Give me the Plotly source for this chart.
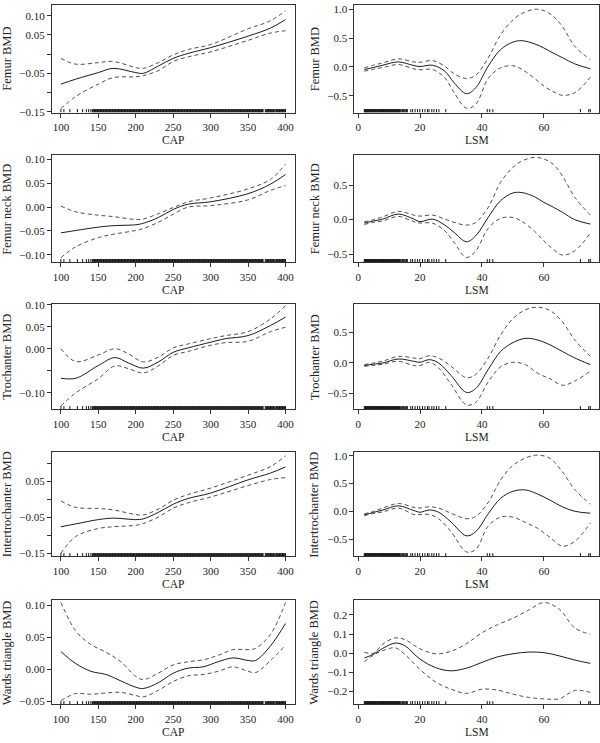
import plotly.graph_objects as go

# ---------------- rug data (observed x values) ----------------
cap_rug = [100, 104, 112, 122, 129, 134, 137, 140,
           142, 143, 144, 145, 146, 147, 148, 149, 150, 151, 152, 153, 154, 155, 156, 157, 158, 159, 160, 161,
           162, 163, 164, 165, 166, 167, 168, 169, 170, 171, 172, 173, 174, 175, 176, 177, 178, 179, 180, 181,
           182, 183, 184, 185, 186, 187, 188, 189, 190, 191, 192, 193, 194, 195, 196, 197, 198, 199, 200, 201,
           202, 203, 204, 205, 206, 207, 208, 209, 210, 211, 212, 213, 214, 215, 216, 217, 218, 219, 220, 221,
           222, 223, 224, 225, 226, 227, 228, 229, 230, 231, 232, 233, 234, 235, 236, 237, 238, 239, 240, 241,
           242, 243, 244, 245, 246, 247, 248, 249, 250, 251, 252, 253, 254, 255, 256, 257, 258, 259, 260, 261,
           262, 263, 264, 265, 266, 267, 268, 269, 270, 271, 272, 273, 274, 275, 276, 277, 278, 279, 280, 281,
           282, 283, 284, 285, 286, 287, 288, 289, 290, 291, 292, 293, 294, 295, 296, 297, 298, 299, 300, 301,
           302, 303, 304, 305, 306, 307, 308, 309, 310, 311, 312, 313, 314, 315, 316, 317, 318, 319, 320, 321,
           322, 323, 324, 325, 326, 327, 328, 329, 330, 331, 332, 333, 334, 335, 336, 337, 338, 339, 340, 341,
           342, 343, 344, 345, 346, 347, 348, 349, 350, 351, 352, 353, 354, 355, 356, 357, 358, 359, 360, 361,
           362, 363, 364, 365, 366, 367, 368, 369, 370, 373, 374, 375, 376, 377, 378, 379, 380, 381,
           382, 383, 384, 385, 387, 388, 389, 390, 391, 392, 393, 394, 395, 396, 397, 398, 399, 400]

lsm_rug = [2.0, 2.2, 2.4, 2.6, 2.8, 3.0, 3.2, 3.4, 3.6, 3.8, 4.0, 4.2, 4.4, 4.6, 4.8, 5.0, 5.2, 5.4, 5.6, 5.8,
           6.0, 6.2, 6.4, 6.6, 6.8, 7.0, 7.2, 7.4, 7.6, 7.8, 8.0, 8.2, 8.4, 8.6, 8.8, 9.0, 9.2, 9.4, 9.6, 9.8,
           10.0, 10.2, 10.4, 10.6, 10.8, 11.0, 11.2, 11.4, 11.6, 11.8, 12.0, 12.2, 12.4, 12.6, 12.8, 13.0,
           13.2, 13.4, 13.6, 13.9, 14.3, 14.6, 14.9, 15.2, 15.6, 15.9, 17.0, 17.6, 18.4, 19.2, 19.9, 20.8,
           21.6, 22.4, 22.9, 23.8, 24.5, 25.3, 26.1, 28.3, 41.7, 42.5, 43.5, 71.8, 74.5, 75.0]

# ---------------- CAP panels ----------------
cap_x = [100, 120, 150, 170, 200, 210, 230, 250, 270, 300, 350, 380, 400]

femur_cap_fit = [-0.078, -0.065, -0.048, -0.037, -0.048, -0.050, -0.031, -0.011, 0.002, 0.017, 0.047, 0.068, 0.090]
femur_cap_up = [-0.011, -0.026, -0.022, -0.019, -0.035, -0.037, -0.022, -0.002, 0.012, 0.025, 0.066, 0.087, 0.113]
femur_cap_lo = [-0.142, -0.110, -0.078, -0.061, -0.059, -0.056, -0.043, -0.019, -0.007, 0.006, 0.036, 0.055, 0.061]

neck_cap_fit = [-0.054, -0.049, -0.042, -0.039, -0.037, -0.034, -0.022, -0.005, 0.006, 0.011, 0.028, 0.048, 0.068]
neck_cap_up = [0.002, -0.010, -0.017, -0.020, -0.026, -0.025, -0.014, -0.001, 0.011, 0.019, 0.038, 0.058, 0.090]
neck_cap_lo = [-0.106, -0.083, -0.064, -0.057, -0.049, -0.045, -0.032, -0.015, 0.000, 0.003, 0.015, 0.035, 0.045]

troch_cap_x = [100, 120, 150, 172, 190, 210, 230, 250, 270, 300, 320, 350, 380, 400]
troch_cap_fit = [-0.067, -0.067, -0.038, -0.020, -0.032, -0.044, -0.030, -0.008, 0.002, 0.015, 0.023, 0.030, 0.053, 0.072]
troch_cap_up = [0.000, -0.029, -0.014, 0.000, -0.011, -0.030, -0.019, 0.002, 0.011, 0.023, 0.030, 0.039, 0.068, 0.098]
troch_cap_lo = [-0.130, -0.100, -0.068, -0.039, -0.045, -0.055, -0.039, -0.015, -0.006, 0.008, 0.014, 0.017, 0.039, 0.049]

inter_cap_fit = [-0.076, -0.068, -0.056, -0.052, -0.056, -0.054, -0.036, -0.013, 0.003, 0.018, 0.055, 0.074, 0.091]
inter_cap_up = [-0.004, -0.022, -0.025, -0.029, -0.042, -0.043, -0.027, -0.002, 0.014, 0.032, 0.068, 0.092, 0.122]
inter_cap_lo = [-0.150, -0.103, -0.081, -0.076, -0.072, -0.067, -0.049, -0.024, -0.009, 0.007, 0.039, 0.056, 0.061]

wards_cap_x = [100, 120, 140, 160, 180, 200, 210, 230, 250, 270, 290, 310, 330, 350, 360, 380, 400]
wards_cap_fit = [0.028, 0.009, -0.003, -0.008, -0.018, -0.028, -0.030, -0.021, -0.006, 0.002, 0.004, 0.012, 0.018,
                 0.014, 0.014, 0.037, 0.072]
wards_cap_up = [0.105, 0.060, 0.039, 0.027, 0.012, -0.011, -0.016, -0.006, 0.007, 0.012, 0.015, 0.022, 0.031,
                0.031, 0.033, 0.055, 0.105]
wards_cap_lo = [-0.049, -0.038, -0.039, -0.037, -0.036, -0.041, -0.043, -0.033, -0.019, -0.010, -0.008, -0.003,
                0.004, -0.003, -0.005, 0.014, 0.038]

# ---------------- LSM panels ----------------
lsm_x = [2, 5, 8, 13, 18, 20, 24, 28, 31, 35, 38, 42, 46, 50, 53, 57, 60, 63, 66, 70, 75]

femur_lsm_fit = [-0.046, -0.010, 0.030, 0.086, 0.023, 0.006, 0.029, -0.075, -0.276, -0.466, -0.362, 0.011, 0.300,
                 0.430, 0.455, 0.400, 0.328, 0.240, 0.160, 0.052, -0.034]
femur_lsm_up = [-0.017, 0.030, 0.070, 0.138, 0.086, 0.080, 0.109, 0.011, -0.121, -0.201, -0.144, 0.155, 0.557,
                0.816, 0.930, 1.000, 0.977, 0.880, 0.700, 0.356, 0.126]
femur_lsm_lo = [-0.075, -0.040, -0.010, 0.040, -0.034, -0.050, -0.046, -0.190, -0.448, -0.718, -0.649, -0.201,
                -0.017, 0.020, -0.046, -0.200, -0.333, -0.430, -0.494, -0.448, -0.178]

neck_lsm_fit = [-0.051, -0.020, 0.007, 0.080, 0.007, -0.031, 0.007, -0.080, -0.186, -0.321, -0.234, 0.031, 0.273,
                0.385, 0.390, 0.330, 0.249, 0.180, 0.105, -0.002, -0.065]
neck_lsm_up = [-0.031, 0.000, 0.040, 0.118, 0.065, 0.050, 0.065, 0.007, -0.041, -0.080, -0.041, 0.176, 0.539,
               0.756, 0.850, 0.900, 0.877, 0.800, 0.630, 0.321, 0.065]
neck_lsm_lo = [-0.070, -0.040, -0.020, 0.046, -0.031, -0.050, -0.051, -0.162, -0.331, -0.548, -0.452, -0.128,
               0.017, 0.030, -0.030, -0.170, -0.307, -0.430, -0.514, -0.452, -0.196]

lsm_x2 = [2, 5, 8, 13, 18, 20, 23, 26, 30, 35, 38, 42, 46, 50, 54, 58, 62, 66, 70, 75]

troch_lsm_fit = [-0.043, -0.020, 0.000, 0.065, 0.027, 0.011, 0.054, 0.000, -0.204, -0.484, -0.419, -0.108, 0.188,
                 0.333, 0.403, 0.376, 0.296, 0.188, 0.081, -0.027]
troch_lsm_up = [-0.027, 0.000, 0.030, 0.108, 0.081, 0.070, 0.118, 0.081, -0.054, -0.242, -0.188, 0.081, 0.457,
                0.726, 0.871, 0.914, 0.860, 0.672, 0.376, 0.108]
troch_lsm_lo = [-0.054, -0.040, -0.020, 0.027, -0.043, -0.043, 0.011, -0.081, -0.349, -0.688, -0.645, -0.312,
                -0.065, 0.011, -0.027, -0.170, -0.260, -0.366, -0.296, -0.134]

inter_lsm_fit = [-0.064, -0.020, 0.023, 0.099, 0.012, -0.017, 0.023, -0.017, -0.192, -0.442, -0.366, -0.047,
                 0.233, 0.360, 0.385, 0.310, 0.200, 0.080, 0.000, -0.035]
inter_lsm_up = [-0.047, 0.000, 0.060, 0.140, 0.070, 0.060, 0.081, 0.058, -0.035, -0.134, -0.093, 0.157, 0.564,
                0.826, 0.959, 1.012, 0.953, 0.709, 0.390, 0.128]
inter_lsm_lo = [-0.076, -0.040, -0.010, 0.058, -0.058, -0.060, -0.058, -0.134, -0.366, -0.733, -0.686, -0.267,
                -0.105, -0.105, -0.200, -0.308, -0.471, -0.628, -0.541, -0.209]

wards_lsm_x = [2, 5, 8, 12, 15, 20, 25, 30, 35, 40, 45, 50, 55, 60, 65, 70, 75]
wards_lsm_fit = [-0.025, -0.005, 0.026, 0.053, 0.040, -0.031, -0.075, -0.092, -0.078, -0.048, -0.019, -0.003,
                 0.006, 0.003, -0.014, -0.036, -0.053]
wards_lsm_up = [0.005, 0.000, 0.048, 0.080, 0.072, 0.023, -0.003, 0.010, 0.050, 0.107, 0.149, 0.183, 0.225,
                0.265, 0.230, 0.132, 0.099]
wards_lsm_lo = [-0.045, -0.010, 0.014, 0.028, -0.005, -0.085, -0.150, -0.188, -0.210, -0.188, -0.193, -0.214,
                -0.231, -0.239, -0.238, -0.195, -0.205]

# ---------------- tick labels ----------------
cap_ticks = [100, 150, 200, 250, 300, 350, 400]
lsm_ticks = [0, 20, 40, 60]

y_titles = ["Femur BMD", "Femur neck BMD", "Trochanter BMD", "Intertrochanter BMD", "Wards triangle BMD"]

panels = [
    # (col, row, xs, fit, up, lo, yrange, tickvals, ticktext)
    (0, 0, cap_x, femur_cap_fit, femur_cap_up, femur_cap_lo, [-0.152, 0.128],
     [-0.15, -0.10, -0.05, 0.0, 0.05, 0.10], ["−0.15", "", "−0.05", "", "0.05", "0.10"]),
    (1, 0, lsm_x, femur_lsm_fit, femur_lsm_up, femur_lsm_lo, [-0.793, 1.075],
     [-0.5, 0.0, 0.5, 1.0], ["−0.5", "0.0", "0.5", "1.0"]),
    (0, 1, cap_x, neck_cap_fit, neck_cap_up, neck_cap_lo, [-0.116, 0.109],
     [-0.10, -0.05, 0.0, 0.05, 0.10], ["−0.10", "−0.05", "0.00", "0.05", "0.10"]),
    (1, 1, lsm_x, neck_lsm_fit, neck_lsm_up, neck_lsm_lo, [-0.621, 0.935],
     [-0.5, 0.0, 0.5], ["−0.5", "0.0", "0.5"]),
    (0, 2, troch_cap_x, troch_cap_fit, troch_cap_up, troch_cap_lo, [-0.138, 0.102],
     [-0.10, -0.05, 0.0, 0.05, 0.10], ["−0.10", "", "0.00", "0.05", "0.10"]),
    (1, 2, lsm_x2, troch_lsm_fit, troch_lsm_up, troch_lsm_lo, [-0.763, 0.968],
     [-0.5, 0.0, 0.5], ["−0.5", "0.0", "0.5"]),
    (0, 3, cap_x, inter_cap_fit, inter_cap_up, inter_cap_lo, [-0.159, 0.133],
     [-0.15, -0.10, -0.05, 0.0, 0.05, 0.10], ["−0.15", "", "−0.05", "", "0.05", ""]),
    (1, 3, lsm_x2, inter_lsm_fit, inter_lsm_up, inter_lsm_lo, [-0.814, 1.07],
     [-0.5, 0.0, 0.5, 1.0], ["−0.5", "0.0", "0.5", "1.0"]),
    (0, 4, wards_cap_x, wards_cap_fit, wards_cap_up, wards_cap_lo, [-0.055, 0.109],
     [-0.05, 0.0, 0.05, 0.10], ["−0.05", "0.00", "0.05", "0.10"]),
    (1, 4, wards_lsm_x, wards_lsm_fit, wards_lsm_up, wards_lsm_lo, [-0.268, 0.279],
     [-0.2, -0.1, 0.0, 0.1, 0.2], ["−0.2", "−0.1", "0.0", "0.1", "0.2"]),
]

W, H = 600, 743
col_px = [(52, 295), (355, 600)]
row_px = [(0, 109), (152, 261), (303, 410), (453, 559), (603, 709)]
ytitle_px = [7, 315]
RUG_FRAC = 0.032  # rug tick height as a fraction of the panel's y span

FONT = "Liberation Serif"
TXT = "#222222"
AX = "#333333"

fig = go.Figure()
annotations = []

for i, (col, row, xs, fit, up, lo, yr, tv, tt) in enumerate(panels, start=1):
    xa = "x" if i == 1 else f"x{i}"
    ya = "y" if i == 1 else f"y{i}"
    rug = cap_rug if col == 0 else lsm_rug
    y0 = yr[0]
    y1 = yr[0] + RUG_FRAC * (yr[1] - yr[0])
    rx, ry = [], []
    for v in rug:
        rx += [v, v, None]
        ry += [y0, y1, None]
    fig.add_trace(go.Scatter(x=rx, y=ry, mode="lines", xaxis=xa, yaxis=ya,
                             line=dict(width=1.0, color="#111", simplify=False),
                             hoverinfo="skip", connectgaps=False))
    for ys in (up, lo):
        fig.add_trace(go.Scatter(x=xs, y=ys, mode="lines", xaxis=xa, yaxis=ya,
                                 line=dict(color="#3a3a3a", width=0.9, dash="4px,3px", shape="spline",
                                           smoothing=1.0)))
    fig.add_trace(go.Scatter(x=xs, y=fit, mode="lines", xaxis=xa, yaxis=ya,
                             line=dict(color="#1a1a1a", width=1.0, shape="spline", smoothing=1.0)))

    x0, x1 = col_px[col]
    t, b = row_px[row]
    xdom = [x0 / W, x1 / W]
    ydom = [(H - b) / H, (H - t) / H]
    common = dict(showline=True, linecolor=AX, linewidth=1, mirror=True, ticks="outside", ticklen=4,
                  tickcolor=AX, tickwidth=1, showgrid=False, zeroline=False,
                  tickfont=dict(family=FONT, size=11, color=TXT))
    key = "" if i == 1 else str(i)
    if col == 0:
        xr = [88, 412]
        xt = cap_ticks
    else:
        xr = [-1.2, 77.8]
        xt = lsm_ticks
    fig.layout["xaxis" + key] = dict(domain=xdom, anchor=ya, range=xr, tickvals=xt,
                                     ticktext=[str(v) for v in xt], **common)
    fig.layout["yaxis" + key] = dict(domain=ydom, anchor=xa, range=yr, tickvals=tv, ticktext=tt, **common)

    annotations.append(dict(text="CAP" if col == 0 else "LSM", xref="paper", yref="paper",
                            x=(x0 + x1) / 2 / W, y=(H - (b + 28)) / H, xanchor="center", yanchor="middle",
                            showarrow=False, borderpad=0, font=dict(family=FONT, size=11.5, color=TXT)))
    annotations.append(dict(text=y_titles[row], xref="paper", yref="paper", textangle=-90,
                            x=ytitle_px[col] / W, y=(H - (t + b) / 2) / H, xanchor="center", yanchor="middle",
                            showarrow=False, borderpad=0, font=dict(family=FONT, size=12.5, color=TXT)))

fig.update_layout(width=W, height=H, margin=dict(l=0, r=0, t=0, b=0), paper_bgcolor="white",
                  plot_bgcolor="white", showlegend=False, annotations=annotations,
                  font=dict(family=FONT, color=TXT))

fig.write_html("out.html", config={"displayModeBar": False},
               post_script="document.body.style.margin='0';document.body.style.padding='0';"
                           "document.documentElement.style.overflow='hidden';")
